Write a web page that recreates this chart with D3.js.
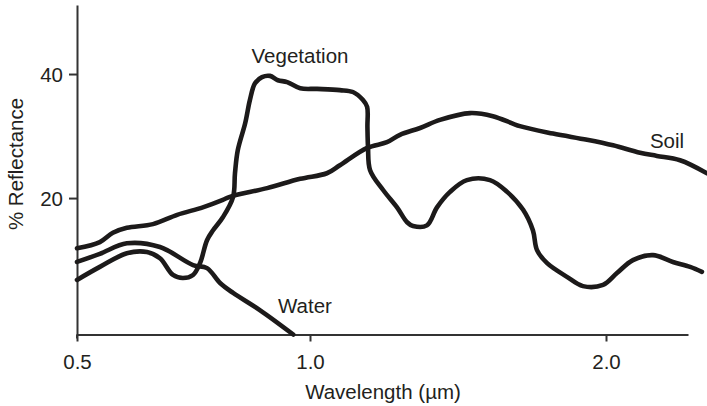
<!DOCTYPE html>
<html>
<head>
<meta charset="utf-8">
<script src="https://cdn.jsdelivr.net/npm/d3@7"></script>
<style>
  html, body { margin: 0; padding: 0; background: #fff; }
  svg { display: block; }
  text { font-family: "Liberation Sans", Arial, Helvetica, sans-serif; fill: #231f20; }
</style>
</head>
<body>
<script>
// ---- data (wavelength in µm, % reflectance) ----
const soilWavelength = [0.500,0.549,0.577,0.607,0.663,0.715,0.770,0.813,0.828,0.908,0.979,1.057,1.101,1.193,1.260,1.304,1.372,1.439,1.541,1.618,1.709,1.821,1.936,2.024,2.115,2.172,2.250,2.341];
const soilReflectance = [11.9,12.9,14.4,15.2,15.8,17.3,18.5,19.7,20.2,21.6,23.1,24.0,25.3,28.1,29.0,30.2,31.3,32.6,33.7,33.2,31.6,30.4,29.4,28.5,27.3,26.8,26.1,24.0];

const waterWavelength = [0.500,0.549,0.607,0.678,0.749,0.779,0.807,0.835,0.893,0.964];
const waterReflectance = [9.7,11.0,12.7,12.1,9.2,8.7,6.3,4.7,1.9,-2.0];

const vegWavelength = [0.500,0.549,0.607,0.650,0.678,0.706,0.727,0.749,0.764,0.779,0.792,0.813,0.835,0.839,0.845,0.861,0.871,0.882,0.897,0.914,0.931,0.951,0.979,1.024,1.101,1.145,1.179,1.193,1.194,1.196,1.203,1.247,1.294,1.328,1.348,1.395,1.429,1.473,1.530,1.608,1.666,1.720,1.753,1.767,1.801,1.868,1.922,1.990,2.037,2.091,2.159,2.226,2.284,2.324];
const vegReflectance = [6.8,8.9,11.1,11.3,10.3,7.6,7.1,7.6,9.5,13.2,14.8,16.9,20.2,24.0,27.7,32.1,35.8,38.5,39.5,39.7,39.0,38.7,37.7,37.6,37.4,37.1,35.8,34.7,31.5,28.2,24.5,21.3,18.5,16.1,15.5,15.6,18.5,21.0,22.9,22.9,21.0,18.1,14.8,11.6,9.5,7.3,5.8,6.0,7.9,10.0,10.8,9.7,8.9,8.1];

const xTicks = [0.5, 1.0, 2.0];
const xTickLabels = ["0.5", "1.0", "2.0"];
const yTicks = [20, 40];
const seriesLabels = ["Vegetation", "Soil", "Water"];
const xTitle = "Wavelength (\u00b5m)";
const yTitle = "% Reflectance";

// ---- drawing ----
const W = 707, H = 406;
const svg = d3.select("body").append("svg").attr("width", W).attr("height", H);

const x = d3.scaleLinear().domain([0.5, 1.0, 2.0, 2.277]).range([77, 310, 606, 688]);
const y = d3.scaleLinear().domain([-2, 51.13]).range([334.5, 5]);

const axisColor = "#333";
const fs = 20.5;

// x axis
const xAxis = svg.append("g").attr("transform", `translate(0,${y(-2)})`)
  .call(d3.axisBottom(x).tickValues(xTicks).tickSizeInner(7).tickSizeOuter(0)
        .tickFormat((d, i) => xTickLabels[i]));
xAxis.select(".domain").attr("stroke", axisColor).attr("stroke-width", 2);
xAxis.selectAll(".tick line").attr("stroke", axisColor).attr("stroke-width", 2);
xAxis.selectAll(".tick text").attr("font-size", fs).attr("dy", 0).attr("y", 34)
  .style("font-family", '"Liberation Sans", Arial, sans-serif').attr("fill", "#231f20");

// y axis
const yAxis = svg.append("g").attr("transform", `translate(${x(0.5)},0)`)
  .call(d3.axisLeft(y).tickValues(yTicks).tickSizeInner(8).tickSizeOuter(0).tickFormat(d3.format("d")));
yAxis.select(".domain").attr("stroke", axisColor).attr("stroke-width", 2);
yAxis.selectAll(".tick line").attr("stroke", axisColor).attr("stroke-width", 2);
yAxis.selectAll(".tick text").attr("font-size", fs).attr("x", -14).attr("dy", "0.36em")
  .style("font-family", '"Liberation Sans", Arial, sans-serif').attr("fill", "#231f20");

// extend y axis a bit below x axis (as in reference)
svg.append("line").attr("x1", x(0.5)).attr("x2", x(0.5)).attr("y1", y(-2)).attr("y2", y(-2) + 4)
  .attr("stroke", axisColor).attr("stroke-width", 2);

// titles
svg.append("text").attr("x", 383).attr("y", 399).attr("text-anchor", "middle")
  .attr("font-size", fs).text(xTitle);
svg.append("text").attr("transform", `translate(23,164) rotate(-90)`).attr("text-anchor", "middle")
  .attr("font-size", fs).text(yTitle);

// curves
const line = d3.line().x(d => x(d[0])).y(d => y(d[1])).curve(d3.curveCatmullRom.alpha(0.5));
const series = [
  d3.zip(soilWavelength, soilReflectance),
  d3.zip(waterWavelength, waterReflectance),
  d3.zip(vegWavelength, vegReflectance)
];
svg.append("g").selectAll("path").data(series).join("path")
  .attr("d", line)
  .attr("fill", "none")
  .attr("stroke", "#1c1a1a")
  .attr("stroke-width", 4.6)
  .attr("stroke-linejoin", "round")
  .attr("stroke-linecap", "round");

// series labels
const labelPos = [[300, 63], [667, 148], [305, 313]];
svg.append("g").selectAll("text").data(seriesLabels).join("text")
  .attr("x", (d, i) => labelPos[i][0]).attr("y", (d, i) => labelPos[i][1])
  .attr("text-anchor", "middle").attr("font-size", fs).text(d => d);
</script>
</body>
</html>
